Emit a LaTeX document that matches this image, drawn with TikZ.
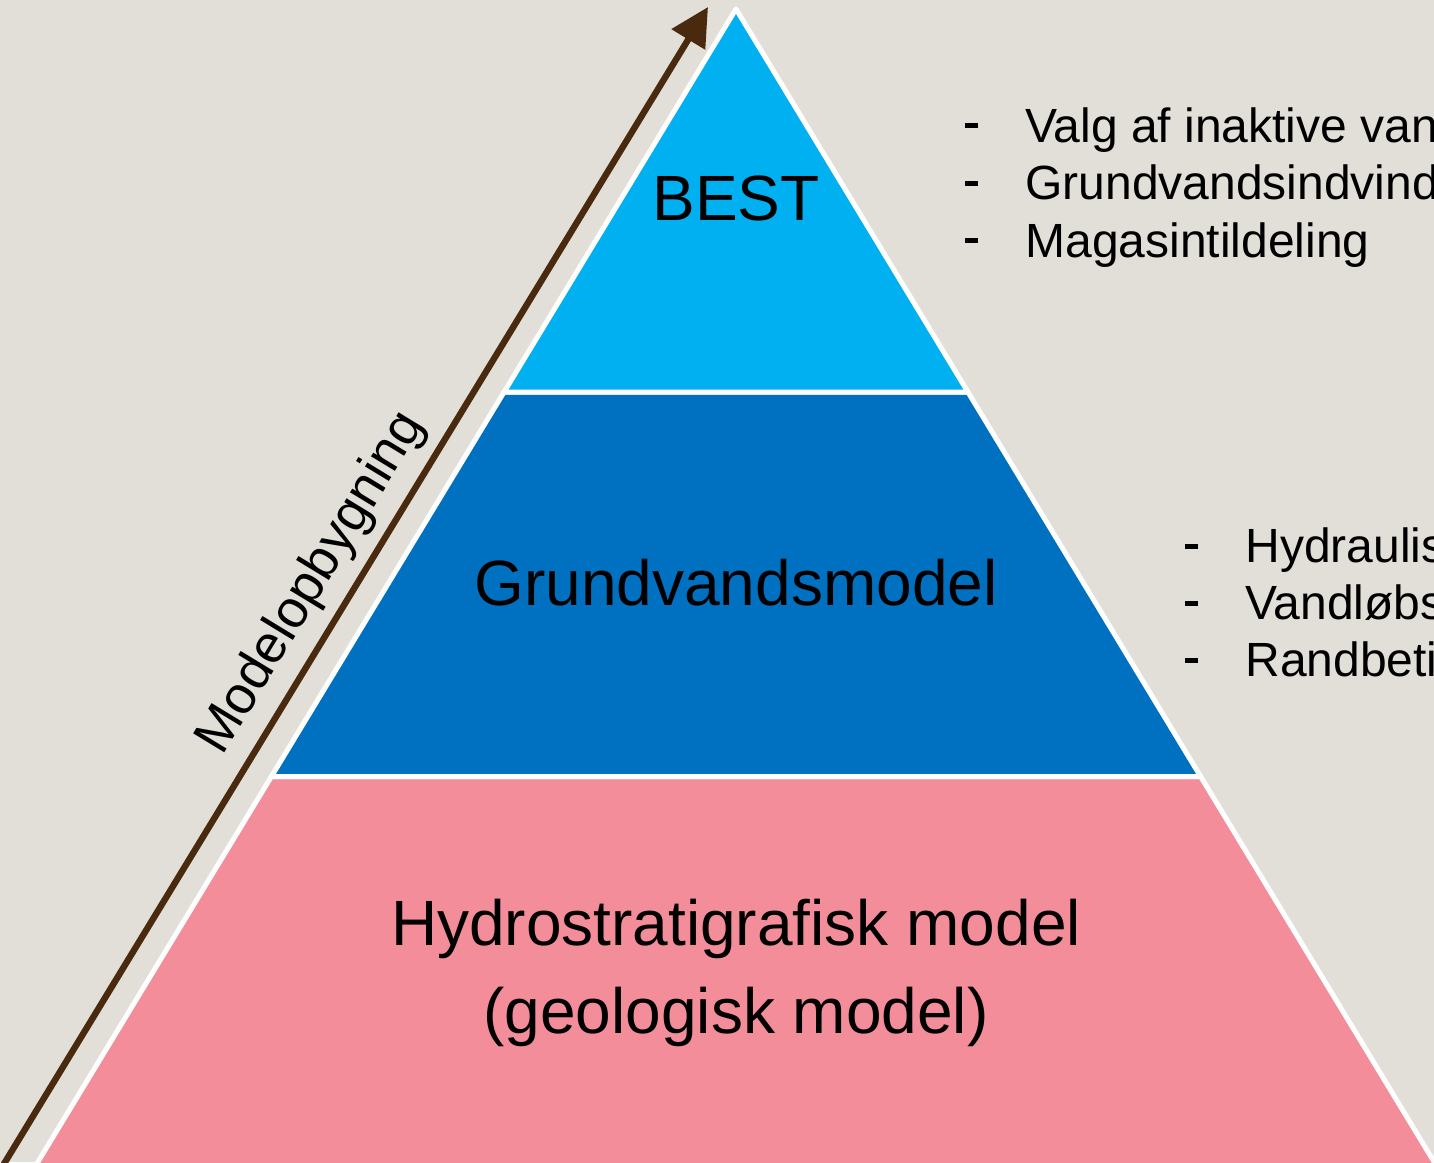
\documentclass[tikz,border=0pt]{standalone}
\usepackage{fontspec}
\setmainfont{Liberation Sans}
\usetikzlibrary{arrows.meta}

\definecolor{paper}{HTML}{E1DFD8}
\definecolor{bestblue}{HTML}{00B0F0}
\definecolor{gwblue}{HTML}{0070C0}
\definecolor{geopink}{HTML}{F28D99}
\definecolor{risebrown}{HTML}{4A2A0F}

% dash in front of each list line
\newcommand{\itemdash}{\makebox[30pt][l]{\rule[7pt]{6.3pt}{2.5pt}}}

\begin{document}
\begin{tikzpicture}[x=0.5pt, y=-0.5pt,
	band/.style={draw=white, line width=2.5pt, line join=round},
	level/.style={font=\fontsize{32}{38}\selectfont, inner sep=0pt, anchor=base},
	item/.style={font=\fontsize{24}{29}\selectfont, inner sep=0pt, anchor=base west},
	>={Triangle[length=19pt, width=19pt]}]
	% Background
	\fill[paper] (0,0) rectangle (1434,1162);
	\useasboundingbox (0,0) rectangle (1434,1162);

	% Pyramid bands
	\path[band, fill=geopink] (271.4,776.5) -- (1200.6,776.5) -- (1442,1175) -- (30,1175) -- cycle;
	\path[band, fill=gwblue] (504.1,392) -- (967.9,392) -- (1200.6,776.5) -- (271.4,776.5) -- cycle;
	\path[band, fill=bestblue] (736,9) -- (967.9,392) -- (504.1,392) -- cycle;

	% Band labels
	\node[level] (best) at (736,220) {BEST};
	\node[level] (gw) at (736,605) {Grundvandsmodel};
	\node[level] (hydro) at (736,945) {Hydrostratigrafisk model};
	\node[level] (geo) at (736,1033) {(geologisk model)};

	% Model building arrow
	\coordinate (rise0) at (-4,1177);
	\coordinate (rise1) at (708,7);
	\draw[->, risebrown, line width=3.2pt] (rise0) -- (rise1)
		node[pos=0.49, sloped, above=5.5pt, inner sep=0pt, text=black, font=\fontsize{26.5}{30}\selectfont] (build) {Modelopbygning};

	% Bullet lists
	\foreach \txt [count=\i] in {Valg af inaktive vandløb, Grundvandsindvinding, Magasintildeling}
		\node[item] (bestitem\i) at (965,{84.5+57.5*\i}) {\itemdash\txt};
	\foreach \txt [count=\i] in {Hydrauliske parametre, Vandløbsstrækninger, Randbetingelser}
		\node[item] (gwitem\i) at (1185,{505.5+57*\i}) {\itemdash\txt};
\end{tikzpicture}
\end{document}
